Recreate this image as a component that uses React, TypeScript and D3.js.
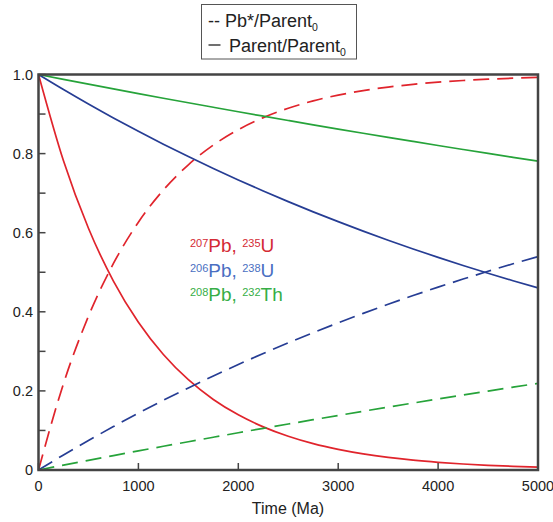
import React from "react";
import * as d3 from "d3";

const times = [0, 250, 500, 750, 1000, 1250, 1500, 1750, 2000, 2250, 2500, 2750, 3000, 3250, 3500, 3750, 4000, 4250, 4500, 4750, 5000];

const u235Parent = [1, 0.7817, 0.6112, 0.4778, 0.3735, 0.2920, 0.2283, 0.1784, 0.1395, 0.1091, 0.0853, 0.0666, 0.0521, 0.0407, 0.0318, 0.0249, 0.0195, 0.0152, 0.0119, 0.0093, 0.0073];
const pb207 = [0, 0.2183, 0.3888, 0.5222, 0.6265, 0.7080, 0.7717, 0.8216, 0.8605, 0.8909, 0.9147, 0.9334, 0.9479, 0.9593, 0.9682, 0.9751, 0.9806, 0.9848, 0.9881, 0.9907, 0.9927];

const u238Parent = [1, 0.9620, 0.9254, 0.8902, 0.8563, 0.8237, 0.7924, 0.7622, 0.7333, 0.7054, 0.6785, 0.6527, 0.6279, 0.6040, 0.5810, 0.5589, 0.5377, 0.5172, 0.4976, 0.4786, 0.4604];
const pb206 = [0, 0.0380, 0.0746, 0.1098, 0.1437, 0.1763, 0.2076, 0.2378, 0.2667, 0.2946, 0.3215, 0.3473, 0.3721, 0.3960, 0.4190, 0.4411, 0.4623, 0.4828, 0.5024, 0.5214, 0.5396];

const th232Parent = [1, 0.9877, 0.9756, 0.9636, 0.9517, 0.9400, 0.9285, 0.9171, 0.9058, 0.8947, 0.8837, 0.8728, 0.8621, 0.8515, 0.8410, 0.8307, 0.8205, 0.8104, 0.8004, 0.7906, 0.7809];
const pb208 = [0, 0.0123, 0.0244, 0.0364, 0.0483, 0.0600, 0.0715, 0.0829, 0.0942, 0.1053, 0.1163, 0.1272, 0.1379, 0.1485, 0.1590, 0.1693, 0.1795, 0.1896, 0.1996, 0.2094, 0.2191];

const xTickValues = [0, 1000, 2000, 3000, 4000, 5000];
const yTickValues = [0, 0.1, 0.2, 0.3, 0.4, 0.5, 0.6, 0.7, 0.8, 0.9, 1.0];
const yLabelValues = [0, 0.2, 0.4, 0.6, 0.8, 1.0];

const RED = "#e0242c";
const BLUE = "#263d94";
const GREEN = "#26a33a";
const AXIS = "#444444";
const FONT = "'Liberation Sans', Arial, Helvetica, sans-serif";

export default function App() {
  const W = 553, H = 522;
  const x = d3.scaleLinear().domain([0, 5000]).range([38.5, 538]);
  const y = d3.scaleLinear().domain([0, 1]).range([470, 74.5]);

  const line = (vals: number[]) =>
    d3.line<number>()
      .x((_, i) => x(times[i]))
      .y((v) => y(v))
      .curve(d3.curveMonotoneX)(vals) as string;

  const series = [
    { vals: u235Parent, color: RED, dash: undefined },
    { vals: pb207, color: RED, dash: "16,8" },
    { vals: u238Parent, color: BLUE, dash: undefined },
    { vals: pb206, color: BLUE, dash: "16,8" },
    { vals: th232Parent, color: GREEN, dash: undefined },
    { vals: pb208, color: GREEN, dash: "16,8" },
  ];

  const labelRows = [
    { a: "207", b: "Pb, ", c: "235", d: "U", color: "#d42a35", yb: 251.5 },
    { a: "206", b: "Pb, ", c: "238", d: "U", color: "#4a6fc2", yb: 276.5 },
    { a: "208", b: "Pb, ", c: "232", d: "Th", color: "#36ae46", yb: 300.5 },
  ];

  return (
    <svg width={W} height={H} style={{ position: "absolute", left: 0, top: 0, background: "#fff" }} fontFamily={FONT}>
      {/* legend */}
      <rect x={201.5} y={4.5} width={155} height={54.5} fill="#fff" stroke="#555" strokeWidth={1} />
      <text x={208} y={26.5} fontSize={18} fill="#222">-- Pb*/Parent<tspan fontSize={10.5} dy={4}>0</tspan></text>
      <line x1={208.5} x2={220.5} y1={45} y2={45} stroke="#222" strokeWidth={1.3} />
      <text x={229} y={51.5} fontSize={18} fill="#222">Parent/Parent<tspan fontSize={10.5} dy={4}>0</tspan></text>

      {/* curves */}
      <g fill="none" strokeWidth={1.7}>
        {series.map((s, i) => (
          <path key={i} d={line(s.vals)} stroke={s.color} strokeDasharray={s.dash} />
        ))}
      </g>

      {/* frame */}
      <rect x={x(0)} y={y(1)} width={x(5000) - x(0)} height={y(0) - y(1)} fill="none" stroke={AXIS} strokeWidth={2.5} />

      {/* y ticks */}
      {yTickValues.map((v) => (
        <line key={"yt" + v} x1={x(0)} x2={x(0) + 7} y1={y(v)} y2={y(v)} stroke={AXIS} strokeWidth={1.5} />
      ))}
      {yLabelValues.map((v) => (
        <text key={"yl" + v} x={33} y={y(v) + 5} fontSize={14.5} textAnchor="end" fill="#222">
          {v === 0 ? "0" : d3.format(".1f")(v)}
        </text>
      ))}

      {/* x ticks */}
      {xTickValues.map((v) => (
        <line key={"xt" + v} x1={x(v)} x2={x(v)} y1={y(0)} y2={y(0) - 7} stroke={AXIS} strokeWidth={1.5} />
      ))}
      {xTickValues.map((v) => (
        <text key={"xl" + v} x={x(v)} y={491} fontSize={14.5} textAnchor="middle" fill="#222">
          {String(v)}
        </text>
      ))}
      <text x={288} y={514} fontSize={16} textAnchor="middle" fill="#222">Time (Ma)</text>

      {/* isotope labels */}
      {labelRows.map((r) => (
        <text key={r.a} x={190} y={r.yb} fill={r.color}>
          <tspan fontSize={11} dy={-4.5}>{r.a}</tspan>
          <tspan fontSize={19} dy={4.5}>{r.b}</tspan>
          <tspan fontSize={11} dy={-4.5}>{r.c}</tspan>
          <tspan fontSize={19} dy={4.5}>{r.d}</tspan>
        </text>
      ))}
    </svg>
  );
}
